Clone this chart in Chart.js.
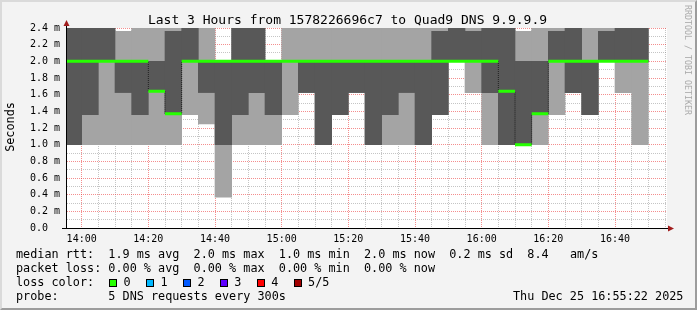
<!DOCTYPE html>
<html>
<head>
<meta charset="utf-8">
<script src="https://cdn.jsdelivr.net/npm/chart.js@4.4.1/dist/chart.umd.min.js"></script>
<style>
html,body{margin:0;padding:0;background:#f3f3f3;}
#wrap{position:relative;width:697px;height:310px;background:#f3f3f3;overflow:hidden;}
#frame{position:absolute;left:0;top:0;width:697px;height:310px;box-sizing:border-box;border-style:solid;border-width:2px;border-color:#dadada #9c9c9c #9c9c9c #dadada;pointer-events:none;}
canvas{position:absolute;left:0;top:0;}
.t{position:absolute;font-family:"DejaVu Sans Mono",monospace;white-space:pre;color:#000;}
.lg{font-size:11.8px;line-height:14px;}
.box{position:absolute;width:6px;height:6px;border:1px solid #000;}
</style>
</head>
<body>
<div id="wrap">
<canvas id="c" width="697" height="310"></canvas>
<div class="t" style="left:0;top:11.5px;width:695px;text-align:center;font-size:13px;line-height:16px;">Last 3 Hours from 1578226696c7 to Quad9 DNS 9.9.9.9</div>
<div class="t" style="left:-40px;top:120px;width:100px;height:14px;line-height:14px;font-size:11.8px;text-align:center;transform:rotate(-90deg);">Seconds</div>
<div class="t" style="left:627.7px;top:55px;width:120px;height:10px;line-height:10px;font-size:8.3px;text-align:center;color:#aaaaaa;transform:rotate(90deg);">RRDTOOL / TOBI OETIKER</div>
<div class="t lg" style="left:16px;top:247.2px;">median rtt:  1.9 ms avg  2.0 ms max  1.0 ms min  2.0 ms now  0.2 ms sd  8.4   am/s</div>
<div class="t lg" style="left:16px;top:261.1px;">packet loss: 0.00 % avg  0.00 % max  0.00 % min  0.00 % now</div>
<div class="t lg" style="left:16px;top:275px;">loss color:</div>
<div id="losslegend"></div>
<div class="t lg" style="left:16px;top:288.9px;">probe:       5 DNS requests every 300s</div>
<div class="t lg" style="left:513px;top:288.9px;">Thu Dec 25 16:55:22 2025</div>
<div id="frame"></div>
</div>
<script>
// ---- data ----
const binStart = ['13:55','14:00','14:05','14:10','14:15','14:20','14:25','14:30','14:35','14:40','14:45','14:50','14:55',
  '15:00','15:05','15:10','15:15','15:20','15:25','15:30','15:35','15:40','15:45','15:50','15:55',
  '16:00','16:05','16:10','16:15','16:20','16:25','16:30','16:35','16:40','16:45'];
const pingMin    = [1.0,1.0,1.0,1.0,1.0,1.0,1.0,1.36,1.25,0.37,1.0,1.0,1.0,1.36,1.625,1.0,1.36,1.625,1.0,1.0,1.0,1.0,1.36,2.0,1.625,1.0,1.0,1.0,1.0,1.36,1.625,1.36,2.0,1.625,1.0];
const ping2      = [1.0,1.36,2.0,1.625,1.36,1.64,1.37,2.0,1.625,1.0,1.36,1.625,1.36,2.0,1.625,1.0,1.36,1.625,1.0,1.36,1.625,1.0,1.36,2.0,2.0,1.625,1.0,1.0,1.37,2.0,1.625,1.36,2.0,2.0,2.0];
const pingMedian = [2.0,2.0,2.0,2.0,2.0,1.64,1.37,2.0,2.0,2.0,2.0,2.0,2.0,2.0,2.0,2.0,2.0,2.0,2.0,2.0,2.0,2.0,2.0,2.0,2.0,2.0,1.64,1.0,1.37,2.0,2.0,2.0,2.0,2.0,2.0];
const ping4      = [3.0,3.0,3.0,2.0,2.0,2.0,2.36,3.0,2.0,2.0,3.0,3.0,2.0,2.0,2.0,2.0,2.0,2.0,2.0,2.0,2.0,2.0,2.36,3.0,2.36,3.0,3.0,2.0,2.0,2.36,3.0,2.0,2.36,3.0,3.0];
const pingMax    = [3.0,3.0,3.0,2.36,3.0,3.0,3.0,3.0,3.0,2.0,3.0,3.0,2.0,3.0,3.0,3.0,3.0,3.0,3.0,3.0,3.0,3.0,3.0,3.0,3.0,3.0,3.0,2.36,3.0,3.0,3.0,3.0,3.0,3.0,3.0];
const xTickLabels = ['14:00','14:20','14:40','15:00','15:20','15:40','16:00','16:20','16:40'];
const yTickLabels = ['0.0  ','0.2 m','0.4 m','0.6 m','0.8 m','1.0 m','1.2 m','1.4 m','1.6 m','1.8 m','2.0 m','2.2 m','2.4 m'];
const lossLabels = ['0','1','2','3','4','5/5'];
const lossColors = ['#26ff00','#00b8ff','#0059ff','#5e00ff','#ff0000','#a10000'];

// ---- loss color legend ----
const ll = document.getElementById('losslegend');
lossLabels.forEach((lab, i) => {
  const b = document.createElement('div');
  b.className = 'box';
  b.style.left = (109 + 36.9 * i) + 'px';
  b.style.top = '279px';
  b.style.background = lossColors[i];
  ll.appendChild(b);
  const t = document.createElement('div');
  t.className = 't lg';
  t.style.left = (123.6 + 36.9 * i) + 'px';
  t.style.top = '275px';
  t.textContent = lab;
  ll.appendChild(t);
});

// ---- chart ----
const step = 5;
const toMin = s => { const [h, m] = s.split(':').map(Number); return (h - 14) * 60 + m; };
const starts = binStart.map(toMin);
const last = starts.length - 1;

const outerBand = starts.map((s, i) => ({x: s + step / 2, y: [pingMin[i], pingMax[i]]}));
const innerBand = starts.map((s, i) => ({x: s + step / 2, y: [ping2[i], ping4[i]]}));
const medianSteps = starts.map((s, i) => ({x: s, y: pingMedian[i]})).concat([{x: starts[last] + step, y: pingMedian[last]}]);
const medianSegs = starts.flatMap((s, i) => [{x: s, y: pingMedian[i]}, {x: s + step, y: pingMedian[i]}, {x: s + step, y: null}]);

const FONT = '"DejaVu Sans Mono", monospace';
const MAJOR = 'rgba(235,50,50,0.55)';
const MINOR = 'rgba(140,140,140,0.5)';

const bgPlugin = {
  id: 'plotbg',
  beforeDraw(chart) {
    const {ctx, chartArea: a} = chart;
    ctx.save();
    ctx.fillStyle = '#ffffff';
    ctx.fillRect(a.left, a.top, a.right - a.left, a.bottom - a.top);
    ctx.restore();
  }
};
const axesPlugin = {
  id: 'axes',
  afterDatasetsDraw(chart) {
    const {ctx, chartArea: a} = chart;
    ctx.save();
    ctx.strokeStyle = '#000';
    ctx.lineWidth = 1;
    ctx.beginPath();
    ctx.moveTo(a.left - 5, a.bottom + 0.5);
    ctx.lineTo(a.right + 2, a.bottom + 0.5);
    ctx.moveTo(a.left - 0.5, a.bottom + 0.5);
    ctx.lineTo(a.left - 0.5, a.top - 3);
    ctx.stroke();
    ctx.fillStyle = '#a11d1d';
    ctx.beginPath();
    ctx.moveTo(a.left - 0.5, a.top - 8);
    ctx.lineTo(a.left - 3.5, a.top - 2);
    ctx.lineTo(a.left + 2.5, a.top - 2);
    ctx.closePath();
    ctx.fill();
    ctx.beginPath();
    ctx.moveTo(a.right + 7, a.bottom + 0.5);
    ctx.lineTo(a.right + 1, a.bottom - 2.5);
    ctx.lineTo(a.right + 1, a.bottom + 3.5);
    ctx.closePath();
    ctx.fill();
    ctx.restore();
  }
};

new Chart(document.getElementById('c'), {
  type: 'bar',
  data: {
    datasets: [
      {label: 'outer', data: outerBand, backgroundColor: '#a4a4a4', borderWidth: 0, grouped: false, order: 4,
       barPercentage: 1, categoryPercentage: 1},
      {label: 'inner', data: innerBand, backgroundColor: '#585858', borderWidth: 0, grouped: false, order: 3,
       barPercentage: 1, categoryPercentage: 1},
      {type: 'line', label: 'median', data: medianSteps, stepped: true, borderColor: '#202020', borderWidth: 1,
       borderDash: [1, 1], pointRadius: 0, fill: false, order: 2},
      {type: 'line', label: 'median loss 0', data: medianSegs, borderColor: '#26ff00', borderWidth: 3,
       pointRadius: 0, fill: false, spanGaps: false, order: 1}
    ]
  },
  options: {
    responsive: false,
    animation: false,
    events: [],
    layout: {padding: {top: 28, right: 30, bottom: 62, left: 0}},
    plugins: {legend: {display: false}, tooltip: {enabled: false}, title: {display: false}},
    scales: {
      x: {
        type: 'linear', min: -4.4, max: 175.6, offset: false,
        afterBuildTicks: s => { const t = []; for (let v = 0; v <= 175; v += step) t.push({value: v}); s.ticks = t; },
        afterFit: s => { s.height = 20; },
        grid: {offset: false, drawTicks: false, lineWidth: 1,
          color: c => (c.tick && c.tick.value % 20 === 0) ? MAJOR : MINOR},
        border: {display: false, dash: [1, 1]},
        ticks: {autoSkip: false, maxRotation: 0, minRotation: 0, padding: 5, color: '#000',
          font: {family: FONT, size: 10},
          callback: v => (v % 20 === 0 && v >= 0) ? xTickLabels[v / 20] : ''}
      },
      y: {
        type: 'linear', min: 0, max: 2.4,
        afterBuildTicks: s => { const t = []; for (let i = 0; i <= 24; i++) t.push({value: i / 10}); s.ticks = t; },
        afterFit: s => { s.width = 67; },
        grid: {drawTicks: false, lineWidth: 1,
          color: c => (c.tick && Math.round(c.tick.value * 10) % 2 === 0) ? MAJOR : MINOR},
        border: {display: false, dash: [1, 1]},
        ticks: {autoSkip: false, padding: 7, color: '#000', font: {family: FONT, size: 10},
          callback: v => { const i = Math.round(v * 10); return i % 2 ? '' : yTickLabels[i / 2]; }}
      }
    }
  },
  plugins: [bgPlugin, axesPlugin]
});
</script>
</body>
</html>
